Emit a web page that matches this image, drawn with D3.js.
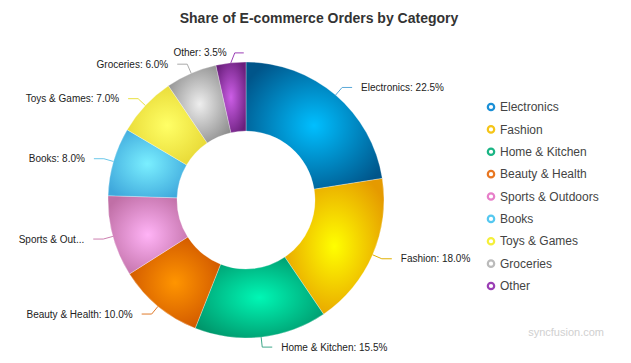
<!DOCTYPE html>
<html>
<head>
<meta charset="utf-8">
<script src="https://cdn.jsdelivr.net/npm/d3@7"></script>
<style>
  body { margin: 0; background: #fff; }
  svg { font-family: "Liberation Sans", Arial, sans-serif; }
</style>
</head>
<body>
<div id="chart"></div>
<script>
// data
const categories = ["Electronics", "Fashion", "Home & Kitchen", "Beauty & Health", "Sports & Outdoors",
                    "Books", "Toys & Games", "Groceries", "Other"];
const shares = [22.5, 18.0, 15.5, 10.0, 9.5, 8.0, 7.0, 6.0, 3.5];
const labelNames = ["Electronics", "Fashion", "Home & Kitchen", "Beauty & Health", "Sports & Out...",
                    "Books", "Toys & Games", "Groceries", "Other"];

// palette: light centre / dark edge / legend marker / connector
const lightCol = ["#00bfff", "#ffff00", "#00f7b5", "#ff9500", "#ffb3f6", "#7aefff", "#ffff66", "#eeeeee", "#cc5ee6"];
const darkCol  = ["#00558a", "#e59a00", "#00956a", "#cc5200", "#c06fa6", "#3fa8dc", "#e6d632", "#8c8c8c", "#6a1f7c"];
const markCol  = ["#1a8fd6", "#f5c518", "#1ab584", "#e87722", "#e77fc9", "#55c8f0", "#f4ef3a", "#bbbbbb", "#9b3fb5"];
const lineCol  = ["#5aa9d8", "#e0b000", "#3fa88a", "#e07a2a", "#cc7fb0", "#6cc8ea", "#e8e040", "#aaaaaa", "#9b3fb5"];

const W = 631, H = 363;
const cx = 246, cy = 200, R = 138, r0 = 69;

const svg = d3.select("#chart").append("svg")
    .attr("width", W).attr("height", H);

// title
svg.append("text")
    .attr("x", 319).attr("y", 23)
    .attr("text-anchor", "middle")
    .style("font-size", "14px").style("font-weight", "bold").style("fill", "#333")
    .text("Share of E-commerce Orders by Category");

const data = categories.map((c, i) => ({ name: c, label: labelNames[i], value: shares[i], i: i }));

const pie = d3.pie().value(d => d.value).sort(null);
const arc = d3.arc().innerRadius(r0).outerRadius(R);
const arcs = pie(data);

// gradients per slice
const defs = svg.append("defs");
arcs.forEach(a => {
    const g = defs.append("radialGradient")
        .attr("id", "grad" + a.data.i)
        .attr("cx", "50%").attr("cy", "50%").attr("r", "60%");
    g.append("stop").attr("offset", "0%").attr("stop-color", lightCol[a.data.i]);
    g.append("stop").attr("offset", "100%").attr("stop-color", darkCol[a.data.i]);
});

const g = svg.append("g").attr("transform", `translate(${cx},${cy})`);

g.selectAll("path.slice")
    .data(arcs)
    .join("path")
    .attr("class", "slice")
    .attr("d", arc)
    .attr("fill", d => `url(#grad${d.data.i})`)
    .attr("stroke", "#fff")
    .attr("stroke-width", 0.3);

// data labels with connectors
arcs.forEach(a => {
    const mid = (a.startAngle + a.endAngle) / 2;
    const sx = Math.sin(mid), sy = -Math.cos(mid);
    const p0 = [R * sx, R * sy];
    const p1 = [(R + 10) * sx, (R + 10) * sy];
    const dir = sx >= 0 ? 1 : -1;
    let p2, textX, anchor;
    if (a.data.i === categories.length - 1) {
        // small slice at top: connector runs right, text sits left of it
        p1[0] += 5;
        p2 = [p1[0] + 9, p1[1]];
        textX = p1[0] - 8; anchor = "end";
    } else {
        p2 = [p1[0] + dir * 10, p1[1]];
        textX = p2[0] + dir * 9; anchor = dir > 0 ? "start" : "end";
    }
    g.append("polyline")
        .attr("points", [p0, p1, p2].map(p => p.join(",")).join(" "))
        .attr("fill", "none")
        .attr("stroke", lineCol[a.data.i])
        .attr("stroke-width", 1);
    g.append("text")
        .attr("x", textX).attr("y", p1[1])
        .attr("dy", "0.35em")
        .attr("text-anchor", anchor)
        .style("font-size", "10px").style("fill", "#222")
        .text(a.data.label === "Sports & Out..." ? a.data.label : `${a.data.label}: ${a.data.value.toFixed(1)}%`);
});

// legend
const legendY = d3.scalePoint().domain(categories).range([107, 286]);
const items = svg.append("g").selectAll("g.item")
    .data(categories)
    .join("g")
    .attr("class", "item")
    .attr("transform", d => `translate(491,${legendY(d)})`);
items.append("circle")
    .attr("r", 3.2)
    .attr("fill", "#fff")
    .attr("stroke", (d, i) => markCol[i])
    .attr("stroke-width", 2.2);
items.append("text")
    .attr("x", 9).attr("dy", "0.35em")
    .style("font-size", "12px").style("fill", "#444")
    .text(d => d);

// watermark
svg.append("text")
    .attr("x", 604).attr("y", 336)
    .attr("text-anchor", "end")
    .style("font-size", "11px").style("fill", "#d0d0d0")
    .text("syncfusion.com");
</script>
</body>
</html>
